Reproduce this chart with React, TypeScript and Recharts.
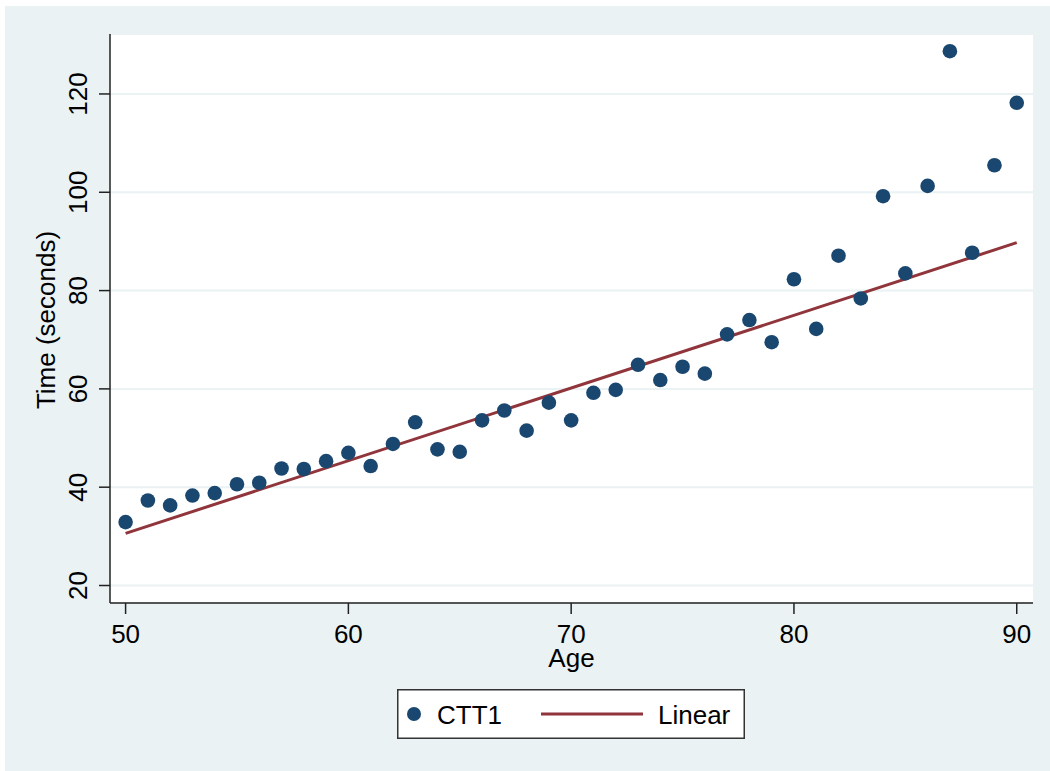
import React from "react";
import {
  ComposedChart,
  Scatter,
  Line,
  XAxis,
  YAxis,
  CartesianGrid,
  Legend,
  Label,
} from "recharts";

const ages = [
  50, 51, 52, 53, 54, 55, 56, 57, 58, 59, 60, 61, 62, 63, 64, 65, 66, 67, 68, 69,
  70, 71, 72, 73, 74, 75, 76, 77, 78, 79, 80, 81, 82, 83, 84, 85, 86, 87, 88, 89, 90,
];
const cttTimes = [
  32.9, 37.3, 36.3, 38.3, 38.8, 40.6, 40.9, 43.8, 43.7, 45.3, 47.0, 44.3, 48.8, 53.2,
  47.7, 47.2, 53.6, 55.6, 51.5, 57.2, 53.6, 59.2, 59.8, 64.9, 61.8, 64.5, 63.1, 71.1,
  74.0, 69.5, 82.3, 72.2, 87.1, 78.4, 99.2, 83.5, 101.3, 128.7, 87.7, 105.5, 118.2,
];
const fitAges = [50, 90];
const fitTimes = [30.6, 89.75];
const xTicks = [50, 60, 70, 80, 90];
const yTicks = [20, 40, 60, 80, 100, 120];
const seriesNames = ["CTT1", "Linear"];

const scatterData = ages.map((a, i) => ({ age: a, time: cttTimes[i] }));
const lineData = fitAges.map((a, i) => ({ age: a, time: fitTimes[i] }));

const NAVY = "#1A476F";
const MAROON = "#90353B";
const BG = "#EAF2F3";
const AXIS = "#222";
const FONT = "'Liberation Sans', Arial, Helvetica, sans-serif";
const FS = 26;

const YTick = (props: any) => {
  const { x, y, payload } = props;
  return (
    <text
      x={x}
      y={y}
      transform={`rotate(-90 ${x} ${y})`}
      textAnchor="middle"
      fontSize={FS}
      fill="#000"
      fontFamily={FONT}
    >
      {payload.value}
    </text>
  );
};

const Dot = (props: any) => {
  const { cx, cy } = props;
  return <circle cx={cx} cy={cy} r={7.3} fill={NAVY} />;
};

const renderLegend = () => (
  <svg width={348} height={50} style={{ display: "block" }}>
    <rect x={0.75} y={0.75} width={346.5} height={48.5} fill="#fff" stroke="#333" strokeWidth={1.5} />
    <circle cx={17} cy={25} r={7} fill={NAVY} />
    <text x={40} y={35} fontSize={FS} fontFamily={FONT} fill="#000">
      {seriesNames[0]}
    </text>
    <line x1={144} y1={25} x2={246} y2={25} stroke={MAROON} strokeWidth={3} />
    <text x={261} y={35} fontSize={FS} fontFamily={FONT} fill="#000">
      {seriesNames[1]}
    </text>
  </svg>
);

export default function App() {
  return (
    <div
      style={{
        position: "absolute",
        left: 5,
        top: 6,
        width: 1045,
        height: 765,
        background: BG,
        fontFamily: FONT,
      }}
    >
      <ComposedChart
        width={1045}
        height={765}
        margin={{ top: 28, right: 17, left: 0, bottom: 108 }}
      >
        <CartesianGrid
          vertical={false}
          horizontal={true}
          stroke={BG}
          strokeWidth={2}
          fill="#fff"
          fillOpacity={1}
        />
        <XAxis
          type="number"
          dataKey="age"
          domain={[49.3, 90.73]}
          allowDataOverflow
          ticks={xTicks}
          height={60}
          tickSize={11}
          tickMargin={11}
          stroke={AXIS}
          strokeWidth={1.5}
          tick={{ fontSize: FS, fill: "#000", fontFamily: FONT }}
        >
          <Label
            content={(p: any) => {
              const vb = p.viewBox || {};
              return (
                <text
                  x={vb.x + vb.width / 2}
                  y={vb.y + 64}
                  textAnchor="middle"
                  fontSize={FS}
                  fill="#000"
                  fontFamily={FONT}
                >
                  Age
                </text>
              );
            }}
          />
        </XAxis>
        <YAxis
          type="number"
          dataKey="time"
          domain={[16.44, 132.2]}
          allowDataOverflow
          ticks={yTicks}
          width={105}
          tickSize={11}
          tickMargin={11.5}
          stroke={AXIS}
          strokeWidth={1.5}
          tick={<YTick />}
        >
          <Label
            content={(p: any) => {
              const vb = p.viewBox || {};
              const x = vb.x + 50;
              const y = vb.y + vb.height / 2 + 1.5;
              return (
                <text
                  x={x}
                  y={y}
                  transform={`rotate(-90 ${x} ${y})`}
                  textAnchor="middle"
                  fontSize={FS}
                  fill="#000"
                  fontFamily={FONT}
                >
                  Time (seconds)
                </text>
              );
            }}
          />
        </YAxis>
        <Scatter
          name={seriesNames[0]}
          data={scatterData}
          dataKey="time"
          fill={NAVY}
          shape={<Dot />}
          isAnimationActive={false}
        />
        <Line
          name={seriesNames[1]}
          data={lineData}
          dataKey="time"
          stroke={MAROON}
          strokeWidth={3}
          dot={false}
          activeDot={false}
          type="linear"
          isAnimationActive={false}
        />
        <Legend
          layout="horizontal"
          verticalAlign="middle"
          align="center"
          content={renderLegend}
          wrapperStyle={{ position: "absolute", left: 392, top: 683, width: 348, height: 50 }}
        />
      </ComposedChart>
    </div>
  );
}
